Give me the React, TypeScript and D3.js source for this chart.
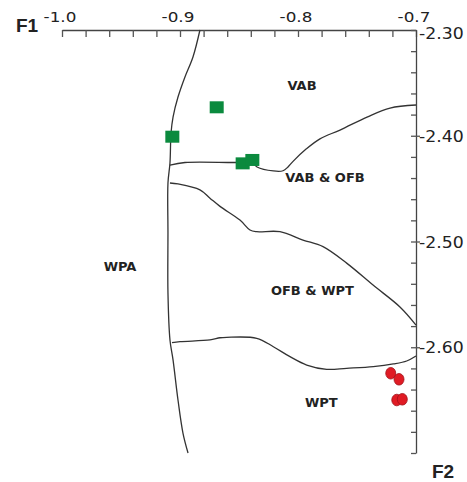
import React, { useRef, useEffect } from 'react';
import * as d3 from 'd3';

// discriminant function plot: F1 (top axis) vs F2 (right axis)
const xTickLabels = ['-1.0', '-0.9', '-0.8', '-0.7'];
const xTickValues = [-1.0, -0.9, -0.8, -0.7];
const yTickLabels = ['-2.30', '-2.40', '-2.50', '-2.60'];
const yTickValues = [-2.3, -2.4, -2.5, -2.6];

// boundary curves [F1, F2]
const wpaBoundary: [number, number][] = [
  [-0.8831, -2.3], [-0.889, -2.3255], [-0.8958, -2.3444], [-0.9017, -2.3634],
  [-0.9059, -2.3823], [-0.9076, -2.3974], [-0.9085, -2.4258], [-0.9102, -2.4447],
  [-0.9102, -2.492], [-0.9102, -2.5487], [-0.9085, -2.5931], [-0.9059, -2.612],
  [-0.9017, -2.6499], [-0.8975, -2.6811], [-0.8932, -2.7],
];
const vabBoundary: [number, number][] = [
  [-0.9085, -2.4277], [-0.8958, -2.4253], [-0.8517, -2.4253], [-0.839, -2.4248],
  [-0.8347, -2.4295], [-0.8209, -2.4333], [-0.8127, -2.4331], [-0.8085, -2.4295],
  [-0.8042, -2.4242], [-0.7929, -2.4124], [-0.7814, -2.4029], [-0.7644, -2.3946],
  [-0.7415, -2.3823], [-0.722, -2.3738], [-0.7, -2.3709],
];
const ofbBoundary: [number, number][] = [
  [-0.9085, -2.4447], [-0.9017, -2.4456], [-0.8831, -2.4512], [-0.8746, -2.459],
  [-0.8661, -2.4668], [-0.8492, -2.4797], [-0.8407, -2.4891], [-0.835, -2.4907],
  [-0.8153, -2.4907], [-0.7958, -2.4986], [-0.7788, -2.5049], [-0.7585, -2.5207],
  [-0.7364, -2.5412], [-0.7136, -2.5619], [-0.7, -2.579],
];
const wptBoundary: [number, number][] = [
  [-0.9068, -2.5957], [-0.9, -2.5947], [-0.8746, -2.5931], [-0.8661, -2.591],
  [-0.8604, -2.5906], [-0.835, -2.5915], [-0.8209, -2.5995], [-0.8068, -2.6089],
  [-0.7926, -2.6168], [-0.7757, -2.6209], [-0.7588, -2.6199], [-0.7362, -2.6183],
  [-0.7192, -2.6158], [-0.7079, -2.613], [-0.7, -2.6083],
];

// group samples
const greenPoints: [number, number][] = [
  [-0.8689, -2.3731], [-0.9065, -2.4009], [-0.8469, -2.4261], [-0.8387, -2.4229],
];
const redPoints: [number, number][] = [
  [-0.7214, -2.6246], [-0.7144, -2.6303], [-0.7163, -2.6499], [-0.7116, -2.6492],
];

// region names [label, F1, F2]
const regionLabels: [string, number, number][] = [
  ['VAB', -0.7966, -2.3527],
  ['VAB & OFB', -0.7771, -2.4391],
  ['WPA', -0.9508, -2.5233],
  ['OFB & WPT', -0.7878, -2.5460],
  ['WPT', -0.7802, -2.6526],
];

const App = () => {
  const svgRef = useRef<SVGSVGElement>(null);
  const width = 467;
  const height = 482;

  useEffect(() => {
    const svg = d3.select(svgRef.current);
    svg.selectAll('*').remove();

    const x = d3.scaleLinear().domain([-1.0, -0.7]).range([62, 416]);
    const y = d3.scaleLinear().domain([-2.3, -2.7]).range([30, 453]);

    // top axis, ticks pointing down
    const topAxis = svg.append('g')
      .attr('transform', `translate(0,${y(-2.3)})`)
      .call(d3.axisBottom(x).tickValues(d3.range(0, 16).map(i => -1.0 + i * 0.02))
        .tickSize(7).tickSizeOuter(0).tickFormat(() => ''));
    topAxis.select('.domain').attr('stroke', '#444').attr('stroke-width', 1.3);
    topAxis.selectAll('.tick line').attr('stroke', '#555').attr('stroke-width', 1.3);

    // right axis, ticks pointing left
    const rightAxis = svg.append('g')
      .attr('transform', `translate(${x(-0.7)},0)`)
      .call(d3.axisLeft(y).tickValues(d3.range(0, 21).map(i => -2.3 - i * 0.02))
        .tickSize(5).tickSizeOuter(0).tickFormat(() => ''));
    rightAxis.select('.domain').attr('stroke', '#444').attr('stroke-width', 1.3);
    rightAxis.selectAll('.tick line').attr('stroke', '#555').attr('stroke-width', 1.3);

    const rightMajor = svg.append('g')
      .attr('transform', `translate(${x(-0.7)},0)`)
      .call(d3.axisRight(y).tickValues(yTickValues.slice(1)).tickSize(4).tickFormat(() => ''));
    rightMajor.select('.domain').remove();
    rightMajor.selectAll('.tick line').attr('stroke', '#555').attr('stroke-width', 1.3);

    // tick labels
    xTickValues.forEach((v, i) => {
      svg.append('text')
        .attr('transform', `translate(${x(v) - 2},22) scale(1.2,1)`)
        .attr('text-anchor', 'middle')
        .attr('font-family', 'DejaVu Sans')
        .attr('font-size', 14)
        .attr('fill', '#222')
        .text(xTickLabels[i]);
    });
    yTickValues.forEach((v, i) => {
      svg.append('text')
        .attr('transform', `translate(419,${y(v) + (i === 0 ? 9 : 6)}) scale(1.08,1)`)
        .attr('font-family', 'DejaVu Sans')
        .attr('font-size', 16)
        .attr('fill', '#222')
        .text(yTickLabels[i]);
    });

    svg.append('text')
      .attr('x', 16).attr('y', 32)
      .attr('font-family', 'Liberation Sans').attr('font-weight', 'bold')
      .attr('font-size', 19).attr('fill', '#222')
      .text('F1');
    svg.append('text')
      .attr('x', 443).attr('y', 478)
      .attr('text-anchor', 'middle')
      .attr('font-family', 'Liberation Sans').attr('font-weight', 'bold')
      .attr('font-size', 19).attr('fill', '#222')
      .text('F2');

    // boundaries
    const line = d3.line<[number, number]>()
      .x(d => x(d[0]))
      .y(d => y(d[1]))
      .curve(d3.curveCatmullRom.alpha(0.5));

    [wpaBoundary, vabBoundary, ofbBoundary, wptBoundary].forEach(b => {
      svg.append('path')
        .datum(b)
        .attr('fill', 'none')
        .attr('stroke', '#333')
        .attr('stroke-width', 1.3)
        .attr('d', line);
    });

    // region labels
    regionLabels.forEach(([t, fx, fy]) => {
      svg.append('text')
        .attr('x', x(fx)).attr('y', y(fy))
        .attr('text-anchor', 'middle')
        .attr('dominant-baseline', 'central')
        .attr('font-family', 'DejaVu Sans').attr('font-weight', 'bold')
        .attr('font-size', 13)
        .attr('fill', '#222')
        .text(t);
    });

    // points
    svg.selectAll('rect.green')
      .data(greenPoints)
      .join('rect')
      .attr('class', 'green')
      .attr('x', d => x(d[0]) - 7)
      .attr('y', d => y(d[1]) - 6)
      .attr('width', 14)
      .attr('height', 12)
      .attr('fill', '#0b8a3e');

    svg.selectAll('ellipse.red')
      .data(redPoints)
      .join('ellipse')
      .attr('class', 'red')
      .attr('cx', d => x(d[0]))
      .attr('cy', d => y(d[1]))
      .attr('rx', 5)
      .attr('ry', 5.8)
      .attr('fill', '#e01b24')
      .attr('stroke', '#a01018')
      .attr('stroke-width', 0.8);
  }, []);

  return (
    <svg ref={svgRef} width={width} height={height}
      style={{ position: 'absolute', left: 0, top: 0, background: '#fff' }} />
  );
};

export default App;
